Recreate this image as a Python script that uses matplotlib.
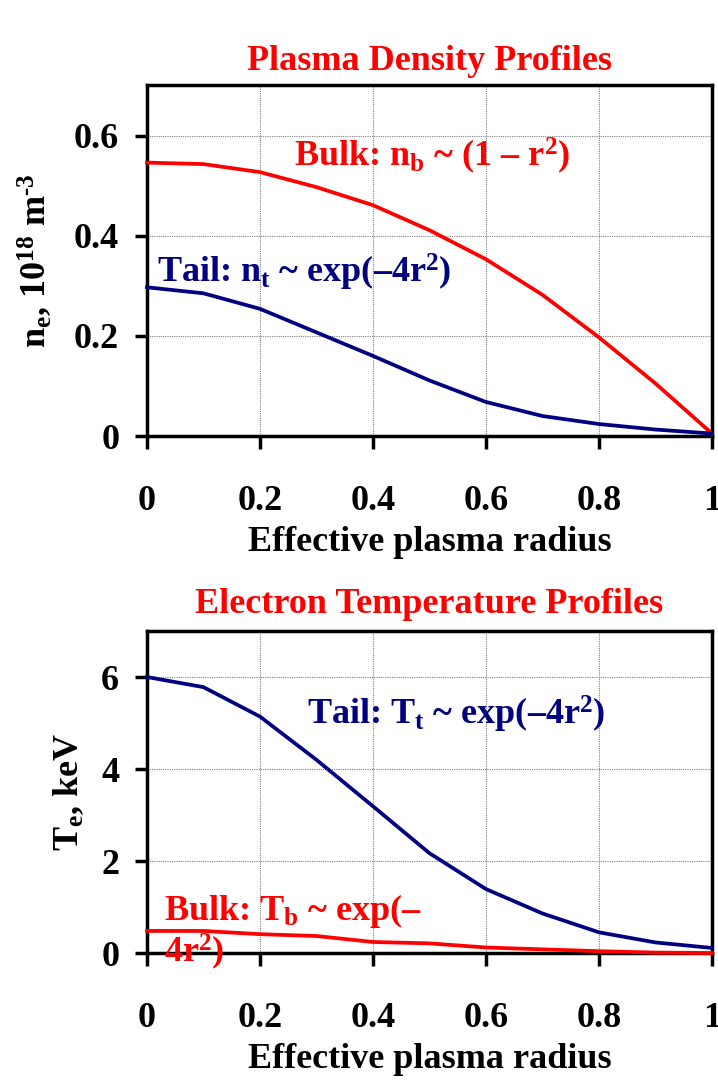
import matplotlib
matplotlib.use('Agg')
import matplotlib.pyplot as plt

plt.rcParams['font.family'] = ['Liberation Serif', 'DejaVu Serif']
plt.rcParams['font.weight'] = 'bold'
plt.rcParams['mathtext.fontset'] = 'custom'
plt.rcParams['mathtext.rm'] = 'Liberation Serif:bold'
plt.rcParams['mathtext.it'] = 'Liberation Serif:bold'
plt.rcParams['mathtext.bf'] = 'Liberation Serif:bold'
plt.rcParams['mathtext.default'] = 'rm'

RED = '#ff0000'
NAVY = '#000080'

# radial grid and profiles
radius = [0.0, 0.1, 0.2, 0.3, 0.4, 0.5, 0.6, 0.7, 0.8, 0.9, 1.0]
dens_bulk = [0.546, 0.543, 0.527, 0.497, 0.461, 0.411, 0.353, 0.282, 0.197, 0.105, 0.005]
dens_tail = [0.297, 0.285, 0.254, 0.207, 0.160, 0.111, 0.068, 0.040, 0.024, 0.013, 0.005]
temp_tail = [6.0, 5.78, 5.14, 4.20, 3.19, 2.17, 1.39, 0.86, 0.45, 0.23, 0.11]
temp_bulk = [0.48, 0.48, 0.41, 0.37, 0.24, 0.21, 0.12, 0.08, 0.04, 0.01, 0.0]

xticks = [0, 0.2, 0.4, 0.6, 0.8, 1]
xticklabels = ['0', '0.2', '0.4', '0.6', '0.8', '1']
dens_ticks = [0, 0.2, 0.4, 0.6]
dens_ticklabels = ['0', '0.2', '0.4', '0.6']
temp_ticks = [0, 2, 4, 6]
temp_ticklabels = ['0', '2', '4', '6']

FS = 26
LW = 2.7

fig = plt.figure(figsize=(7.18, 10.82), dpi=100)
ax1 = fig.add_axes([0.2047, 0.597, 0.7869, 0.324])
ax2 = fig.add_axes([0.2047, 0.1192, 0.7869, 0.2976])


def style_axes(ax, yticks, yticklabels, ymax):
    ax.set_xlim(0, 1)
    ax.set_ylim(0, ymax)
    ax.set_xticks(xticks)
    ax.set_xticklabels(xticklabels)
    ax.set_yticks(yticks)
    ax.set_yticklabels(yticklabels)
    ax.grid(True, color='#808080', linestyle=(0, (1, 1)), linewidth=0.8)
    ax.set_axisbelow(True)
    for s in ax.spines.values():
        s.set_linewidth(2.5)
    ax.tick_params(axis='x', direction='out', length=9, width=2.5, pad=26, labelsize=FS)
    ax.tick_params(axis='y', direction='out', length=9, width=2.5, pad=11, labelsize=FS)
    for lbl in ax.get_xticklabels() + ax.get_yticklabels():
        lbl.set_fontweight('bold')


# density profiles
ax1.plot(radius, dens_bulk, color=RED, linewidth=LW, clip_on=False, zorder=3)
ax1.plot(radius, dens_tail, color=NAVY, linewidth=LW, clip_on=False, zorder=3)
style_axes(ax1, dens_ticks, dens_ticklabels, 0.7)
ax1.set_title('Plasma Density Profiles', color=RED, fontsize=FS, fontweight='bold', pad=11)
ax1.set_xlabel('Effective plasma radius', fontsize=FS, fontweight='bold', labelpad=6)
ax1.set_ylabel(r'n$_{e}$, 10$^{18}$ m$^{\text{-3}}$', fontsize=FS, fontweight='bold')
ax1.yaxis.set_label_coords(-0.165, 0.5)
ax1.text(0.26, 0.538, r'Bulk: n$_{b}$ ~ (1 – r$^{2}$)', color=RED, fontsize=FS,
         fontweight='bold', ha='left', va='baseline')
ax1.text(0.018, 0.306, r'Tail: n$_{t}$ ~ exp(–4r$^{2}$)', color=NAVY, fontsize=FS,
         fontweight='bold', ha='left', va='baseline')

# temperature profiles
ax2.plot(radius, temp_tail, color=NAVY, linewidth=LW, clip_on=False, zorder=3)
ax2.plot(radius, temp_bulk, color=RED, linewidth=LW, clip_on=False, zorder=3)
style_axes(ax2, temp_ticks, temp_ticklabels, 7)
ax2.set_title('Electron Temperature Profiles', color=RED, fontsize=FS, fontweight='bold', pad=13)
ax2.set_xlabel('Effective plasma radius', fontsize=FS, fontweight='bold', labelpad=6)
ax2.set_ylabel(r'T$_{e}$, keV', fontsize=FS, fontweight='bold')
ax2.yaxis.set_label_coords(-0.108, 0.5)
ax2.text(0.283, 4.96, r'Tail: T$_{t}$ ~ exp(–4r$^{2}$)', color=NAVY, fontsize=FS,
         fontweight='bold', ha='left', va='baseline')
# bulk label wraps onto a second line that sits over the axis
ax2.text(0.03, 0.72, r'Bulk: T$_{b}$ ~ exp(–', color=RED, fontsize=FS,
         fontweight='bold', ha='left', va='baseline')
ax2.text(0.03, -0.2, r'4r$^{2}$)', color=RED, fontsize=FS,
         fontweight='bold', ha='left', va='baseline', clip_on=False, zorder=5)

fig.savefig('out.png', dpi=100)
